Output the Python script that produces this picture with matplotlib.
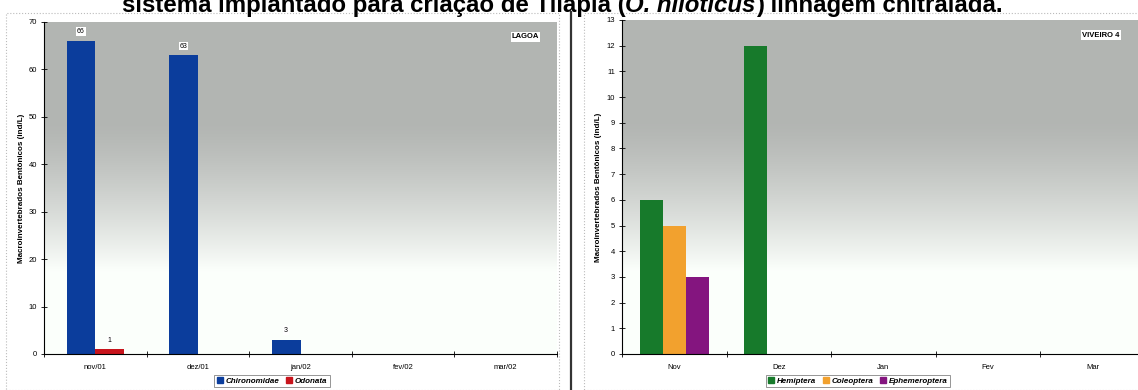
import numpy as np
import matplotlib.pyplot as plt
from matplotlib.patches import Rectangle
from matplotlib.lines import Line2D

# Lagoa (left panel)
meses_lagoa = ['nov/01', 'dez/01', 'jan/02', 'fev/02', 'mar/02']
chironomidae = [66, 63, 3, 0, 0]
odonata = [1, 0, 0, 0, 0]

# Viveiro 4 (right panel)
meses_viveiro = ['Nov', 'Dez', 'Jan', 'Fev', 'Mar']
hemiptera = [6, 12, 0, 0, 0]
coleoptera = [5, 0, 0, 0, 0]
ephemeroptera = [3, 0, 0, 0, 0]

W, H = 1138, 390
plt.rcParams['font.family'] = ['Liberation Sans', 'DejaVu Sans']

fig = plt.figure(figsize=(W / 100, H / 100), dpi=100)


def px(x0, y0, x1, y1):
    return [x0 / W, 1 - y1 / H, (x1 - x0) / W, (y1 - y0) / H]


def gray_background(ax):
    # gray at the top fading to white towards the bottom (row 0 = top)
    t = np.linspace(0, 1, 256)[:, None]
    fade = np.clip((t - 0.30) / 0.45, 0, 1) ** 1.3
    g = 0.71 + 0.29 * fade
    img = np.dstack([g * 0.985, g, g * 0.985]).repeat(4, axis=1)
    ax.imshow(img, extent=[0, 1, 0, 1], transform=ax.transAxes,
              aspect='auto', zorder=0)


def style_axes(ax, ymax, ystep, labels):
    n = len(labels)
    ax.set_xlim(-0.5, n - 0.5)
    ax.set_ylim(0, ymax)
    ax.set_yticks(np.arange(0, ymax + 0.1, ystep))
    ax.set_xticks(np.arange(n))
    ax.set_xticklabels(labels)
    ax.set_xticks(np.arange(n + 1) - 0.5, minor=True)
    ax.tick_params(axis='x', which='major', length=0, labelsize=5.5, pad=7)
    ax.tick_params(axis='x', which='minor', length=4, direction='inout', width=0.6)
    ax.tick_params(axis='y', length=4, direction='inout', width=0.6, labelsize=5.5, pad=3)
    for s in ['top', 'right']:
        ax.spines[s].set_visible(False)
    for s in ['left', 'bottom']:
        ax.spines[s].set_linewidth(0.8)
    ax.set_ylabel('Macroinvertebrados Bentônicos (ind/L)', fontsize=5.8,
                  fontweight='bold', labelpad=3)


# left panel
ax1 = fig.add_axes(px(44, 22, 557, 354))
gray_background(ax1)
x = np.arange(len(meses_lagoa))
bw = 0.28
b1 = ax1.bar(x - bw / 2, chironomidae, bw, color='#0b3d9c', zorder=2)
b2 = ax1.bar(x + bw / 2, odonata, bw, color='#c8141c', zorder=2)
for rect, v in list(zip(b1, chironomidae)) + list(zip(b2, odonata)):
    if v > 0:
        ax1.text(rect.get_x() + rect.get_width() / 2, v + 1.2, str(v),
                 ha='center', va='bottom', fontsize=5, zorder=3,
                 bbox=dict(facecolor='white', edgecolor='none', pad=0.6))
style_axes(ax1, 70, 10, meses_lagoa)
ax1.text(0.965, 0.955, 'LAGOA', transform=ax1.transAxes, ha='right', va='center',
         fontsize=5.5, fontweight='bold',
         bbox=dict(facecolor='white', edgecolor='none', pad=0.8))

# right panel
ax2 = fig.add_axes(px(622, 20, 1145, 354))
gray_background(ax2)
x = np.arange(len(meses_viveiro))
bw = 0.22
ax2.bar(x - bw, hemiptera, bw, color='#177a2b', zorder=2)
ax2.bar(x, coleoptera, bw, color='#f2a12e', zorder=2)
ax2.bar(x + bw, ephemeroptera, bw, color='#84157f', zorder=2)
style_axes(ax2, 13, 1, meses_viveiro)
ax2.text(0.88, 0.955, 'VIVEIRO 4', transform=ax2.transAxes, ha='left', va='center',
         fontsize=5.5, fontweight='bold',
         bbox=dict(facecolor='white', edgecolor='none', pad=0.8))


def legend(names, colors, cx):
    handles = [Line2D([], [], marker='s', linestyle='none', markersize=4,
                      color=c) for c in colors]
    leg = fig.legend(handles, names, loc='center', bbox_to_anchor=(cx / W, 1 - 381 / H),
                     ncol=len(names), frameon=True, fancybox=False,
                     handletextpad=0.3, columnspacing=0.8, borderpad=0.3,
                     handlelength=0.8, prop=dict(size=5.8, weight='bold', style='italic'))
    leg.get_frame().set_edgecolor('#666666')
    leg.get_frame().set_linewidth(0.6)


legend(['Chironomidae', 'Odonata'], ['#0b3d9c', '#c8141c'], 272)
legend(['Hemiptera', 'Coleoptera', 'Ephemeroptera'],
       ['#177a2b', '#f2a12e', '#84157f'], 858)

# panel frames and separator
fig.add_artist(Rectangle((6 / W, 0), 553 / W, 1 - 13 / H, transform=fig.transFigure,
                         fill=False, edgecolor='#bbbbbb', linestyle=':', linewidth=0.8))
fig.add_artist(Rectangle((584 / W, 0), 600 / W, 1 - 13 / H, transform=fig.transFigure,
                         fill=False, edgecolor='#bbbbbb', linestyle=':', linewidth=0.8))
fig.add_artist(Line2D([571 / W, 571 / W], [0, 1 - 12 / H], transform=fig.transFigure,
                      color='#333333', linewidth=1.6))

# title, running off the top of the page
fig.canvas.draw()
renderer = fig.canvas.get_renderer()
parts = [('sistema implantado para criação de Tilápia (', 'normal'),
         ('O. niloticus', 'italic'),
         (') linhagem chitralada.', 'normal')]
texts = []
total = 0
for s, st in parts:
    t = fig.text(0, 1 - 12 / H, s, fontsize=17.3, fontweight='bold', style=st,
                 va='baseline', ha='left')
    w = t.get_window_extent(renderer).width
    texts.append((t, w))
    total += w
xpos = 562 - total / 2
for t, w in texts:
    t.set_x(xpos / W)
    xpos += w

fig.savefig('out.png', dpi=100)
